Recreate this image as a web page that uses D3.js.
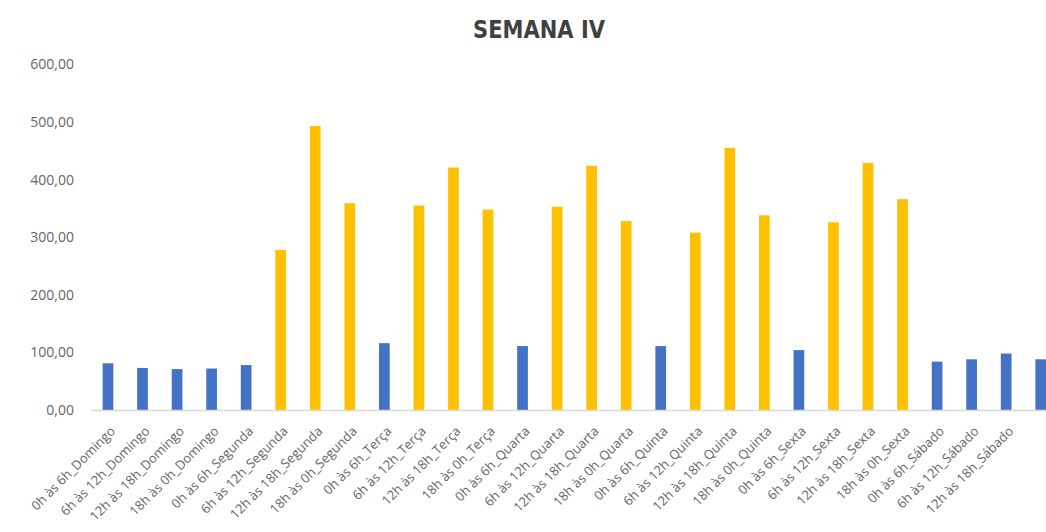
<!DOCTYPE html>
<html><head><meta charset="utf-8">
<script src="https://cdn.jsdelivr.net/npm/d3@7"></script>
<style>
html,body{margin:0;padding:0;background:#fff;overflow:hidden}
svg{display:block}
</style></head>
<body>
<script>
const title = "SEMANA IV";
const days = ["Domingo","Segunda","Terça","Quarta","Quinta","Sexta","Sábado"];
const periods = ["0h às 6h","6h às 12h","12h às 18h","18h às 0h"];
const categories = days.flatMap(d => periods.map(p => p + "_" + d));
const values = [81,73,71,72, 78,278,493,359, 116,355,421,348, 111,353,424,328, 111,308,455,338, 104,326,429,366, 84,88,98,88];
const yTicks = [0,100,200,300,400,500,600];

const W = 1046, H = 532;
const svg = d3.select("body").append("svg").attr("width", W).attr("height", H);

const x = d3.scaleBand().domain(categories).range([90.7, 1058]).paddingInner(0.69).paddingOuter(0.345);
const y = d3.scaleLinear().domain([0,600]).range([410, 64.4]);

const isBlue = c => c.startsWith("0h às 6h") || c.endsWith("Domingo") || c.endsWith("Sábado");

svg.append("text").attr("x", 539).attr("y", 38).attr("text-anchor","middle")
  .attr("font-family","'DejaVu Sans',sans-serif")
  .attr("font-weight","bold").attr("font-size",25).attr("fill","#404040")
  .attr("textLength",132).attr("lengthAdjust","spacingAndGlyphs")
  .text(title);

// y axis labels
const yAxis = d3.axisLeft(y).tickValues(yTicks).tickSize(0).tickPadding(0)
  .tickFormat(d => d3.format(".2f")(d).replace(".", ","));
const gy = svg.append("g").attr("transform","translate(74,0)").call(yAxis);
gy.select(".domain").remove();
gy.selectAll("text").attr("font-family","'Open Sans',sans-serif").attr("font-size",14).attr("fill","#666666");

// bars
svg.append("g").selectAll("rect").data(categories).join("rect")
  .attr("x", d => x(d)).attr("width", x.bandwidth())
  .attr("y", (d,i) => y(values[i])).attr("height", (d,i) => y(0) - y(values[i]))
  .attr("fill", d => isBlue(d) ? "#4472C4" : "#FFC000");

// baseline + category labels
const xAxis = d3.axisBottom(x).tickSize(0).tickPadding(0);
const gx = svg.append("g").attr("transform","translate(0,410)").call(xAxis);
gx.select(".domain").attr("stroke","#D9D9D9").attr("stroke-width",1.5);
gx.selectAll(".tick text")
  .attr("font-family","'Open Sans',sans-serif").attr("font-size",13).attr("fill","#666666")
  .attr("text-anchor","end").attr("dy",0)
  .attr("transform","translate(8,22) rotate(-45)");
// the reference picture shows no label under the last (clipped) bar
gx.selectAll(".tick").filter((d,i,n) => i === n.length - 1).select("text").remove();
</script>
</body></html>
